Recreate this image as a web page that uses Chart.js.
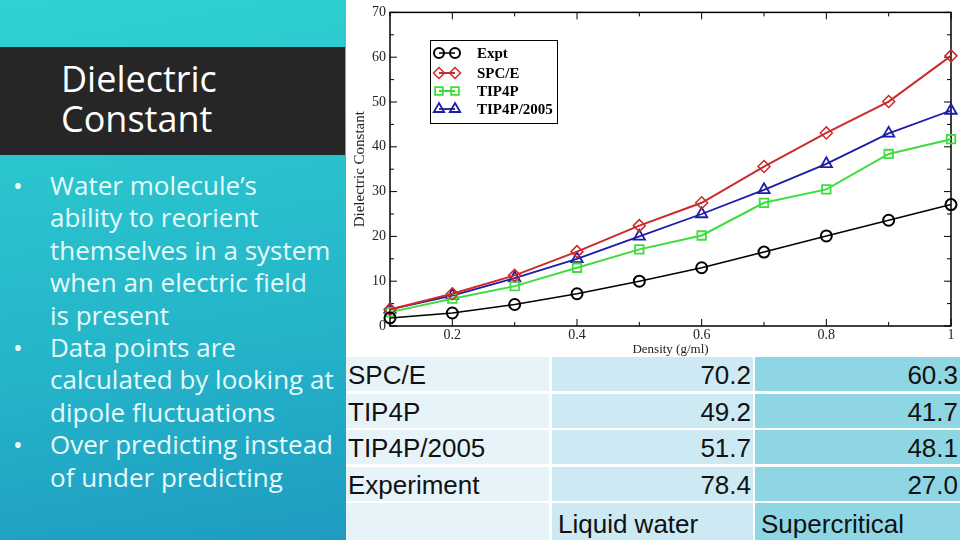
<!DOCTYPE html>
<html>
<head>
<meta charset="utf-8">
<script src="https://cdn.jsdelivr.net/npm/chart.js@4.4.0/dist/chart.umd.min.js"></script>
<style>
  html, body { margin: 0; padding: 0; }
  body { width: 960px; height: 540px; overflow: hidden; position: relative;
         background: linear-gradient(170deg, #30d3d1 0%, #24b3c9 55%, #1b8fbd 100%);
         font-family: "Open Sans", Lato, sans-serif; }
  #titleBar { position: absolute; left: 0; top: 47px; width: 345px; height: 108px; background: #262626; }
  #titleBar div { position: absolute; left: 61px; top: 12px; color: #fff; font-size: 36px; line-height: 40px; }
  #bullets { position: absolute; left: 0; top: 169px; width: 345px; color: #e6fafa; font-size: 26px; line-height: 32.4px; white-space: nowrap; }
  #bullets .b { position: relative; padding-left: 50px; }
  #bullets .b::before { content: "\2022"; position: absolute; left: 13px; }
  #chartBox { position: absolute; left: 346px; top: 0; width: 614px; height: 357px; background: #fff; }
  #tbl { position: absolute; left: 346px; top: 357px; width: 614px; height: 183px; background: #fff;
         font-family: "Liberation Sans", Arial, sans-serif; font-size: 26px; color: #111; }
  .cell { position: absolute; height: 34px; line-height: 36px; box-sizing: border-box; white-space: nowrap; }
</style>
</head>
<body>
<div id="titleBar"><div>Dielectric<br>Constant</div></div>
<div id="bullets">
  <div class="b">Water molecule’s<br>ability to reorient<br>themselves in a system<br>when an electric field<br>is present</div>
  <div class="b">Data points are<br>calculated by looking at<br>dipole fluctuations</div>
  <div class="b">Over predicting instead<br>of under predicting</div>
</div>
<div id="chartBox"><canvas id="chart" width="614" height="357"></canvas></div>
<div id="tbl"></div>
<script>
// chart data
const density = [0.1, 0.2, 0.3, 0.4, 0.5, 0.6, 0.7, 0.8, 0.9, 1.0];
const expt = [1.8, 2.9, 4.8, 7.2, 10.0, 13.0, 16.5, 20.1, 23.6, 27.1];
const spce = [3.7, 7.2, 11.3, 16.6, 22.4, 27.5, 35.6, 43.1, 50.1, 60.3];
const tip4p = [3.1, 6.1, 8.9, 13.0, 17.1, 20.2, 27.5, 30.5, 38.4, 41.7];
const tip4p2005 = [3.7, 6.8, 10.7, 15.0, 20.0, 25.0, 30.4, 36.2, 43.0, 48.1];
const seriesNames = ['Expt', 'SPC/E', 'TIP4P', 'TIP4P/2005'];
const xTicks = [0.2, 0.4, 0.6, 0.8, 1];
const xMinor = [0.1, 0.3, 0.5, 0.7, 0.9];
const yTicks = [0, 10, 20, 30, 40, 50, 60, 70];
const yMinor = [5, 15, 25, 35, 45, 55, 65];

// table data
const tableModels = ['SPC/E', 'TIP4P', 'TIP4P/2005', 'Experiment'];
const liquidVals = ['70.2', '49.2', '51.7', '78.4'];
const superVals = ['60.3', '41.7', '48.1', '27.0'];
const tableHeads = ['', 'Liquid water', 'Supercritical'];

const tbl = document.getElementById('tbl');
const colX = [0, 206, 409];
const colW = [203, 201, 205];
const colBg = ['#e6f4f9', '#cde9f3', '#8fd6e5'];
function addCell(row, col, text, align) {
    const d = document.createElement('div');
    d.className = 'cell';
    d.style.left = colX[col] + 'px';
    d.style.width = colW[col] + 'px';
    d.style.top = (row * 36.5) + 'px';
    d.style.height = (row == 4 ? 183 - 4 * 36.5 : 34) + 'px';
    d.style.background = colBg[col];
    d.style.textAlign = align;
    d.style.padding = align == 'right' ? '0 2px 0 0' : '0 0 0 6px';
    if (col == 0) d.style.paddingLeft = '2px';
    if (row == 4) d.style.lineHeight = '42px';
    d.textContent = text;
    tbl.appendChild(d);
}
tableModels.forEach((m, i) => {
    addCell(i, 0, m, 'left');
    addCell(i, 1, liquidVals[i], 'right');
    addCell(i, 2, superVals[i], 'right');
});
tableHeads.forEach((h, i) => addCell(4, i, h, 'left'));

function pts(arr) {
    return arr.map((v, i) => ({ x: density[i], y: v }));
}

// frame with inward ticks on all four sides, like xmgrace
const framePlugin = {
    id: 'frame',
    beforeDatasetsDraw(chart) {
        const { ctx, chartArea: a, scales } = chart;
        ctx.save();
        ctx.strokeStyle = '#000';
        ctx.lineWidth = 1.5;
        ctx.strokeRect(a.left, a.top, a.right - a.left, a.bottom - a.top);
        ctx.lineWidth = 1;
        ctx.beginPath();
        const xt = (v, len) => {
            const px = scales.x.getPixelForValue(v);
            ctx.moveTo(px, a.bottom); ctx.lineTo(px, a.bottom - len);
            ctx.moveTo(px, a.top); ctx.lineTo(px, a.top + len);
        };
        const yt = (v, len) => {
            const py = scales.y.getPixelForValue(v);
            ctx.moveTo(a.left, py); ctx.lineTo(a.left + len, py);
            ctx.moveTo(a.right, py); ctx.lineTo(a.right - len, py);
        };
        xTicks.forEach(v => xt(v, 7));
        xMinor.forEach(v => xt(v, 4));
        yTicks.forEach(v => yt(v, 7));
        yMinor.forEach(v => yt(v, 4));
        ctx.stroke();
        ctx.restore();
    }
};

// boxed legend inside the plot
const legendPlugin = {
    id: 'boxLegend',
    afterDatasetsDraw(chart) {
        const ctx = chart.ctx;
        ctx.save();
        ctx.fillStyle = '#fff';
        ctx.fillRect(84, 40, 127, 83);
        ctx.strokeStyle = '#000';
        ctx.lineWidth = 1;
        ctx.strokeRect(84.5, 40.5, 127, 83);
        const rows = [53, 73, 91, 109];
        chart.data.datasets.forEach((ds, i) => {
            const y = rows[i];
            ctx.strokeStyle = ds.borderColor;
            ctx.lineWidth = ds.borderWidth;
            ctx.beginPath();
            ctx.moveTo(93, y); ctx.lineTo(109, y);
            ctx.stroke();
            ctx.fillStyle = 'rgba(0,0,0,0)';
            ctx.lineWidth = ds.pointBorderWidth;
            [93, 109].forEach(x => {
                Chart.helpers.drawPoint(ctx, {
                    pointStyle: ds.pointStyle, radius: ds.pointRadius - 0.5,
                    rotation: 0, borderWidth: ds.pointBorderWidth
                }, x, y);
            });
            ctx.fillStyle = '#000';
            ctx.font = 'bold 15px "Liberation Serif", "DejaVu Serif", serif';
            ctx.textBaseline = 'middle';
            ctx.fillText(ds.label, 131, y + 1);
        });
        ctx.restore();
    }
};

const serif = '"Liberation Serif", "DejaVu Serif", serif';

new Chart(document.getElementById('chart'), {
    type: 'line',
    data: {
        datasets: [{
            label: seriesNames[0], data: pts(expt),
            borderColor: '#000', borderWidth: 1.5,
            pointStyle: 'circle', pointRadius: 5.5, pointBorderWidth: 2,
            pointBackgroundColor: 'rgba(0,0,0,0)', pointBorderColor: '#000'
        }, {
            label: seriesNames[1], data: pts(spce),
            borderColor: '#cc2a2a', borderWidth: 2,
            pointStyle: 'rectRot', pointRadius: 6, pointBorderWidth: 1.5,
            pointBackgroundColor: 'rgba(0,0,0,0)', pointBorderColor: '#cc2a2a'
        }, {
            label: seriesNames[2], data: pts(tip4p),
            borderColor: '#3ddd3d', borderWidth: 2,
            pointStyle: 'rect', pointRadius: 6, pointBorderWidth: 1.8,
            pointBackgroundColor: 'rgba(0,0,0,0)', pointBorderColor: '#3ddd3d'
        }, {
            label: seriesNames[3], data: pts(tip4p2005),
            borderColor: '#1c1ca8', borderWidth: 1.8,
            pointStyle: 'triangle', pointRadius: 6.5, pointBorderWidth: 1.8,
            pointBackgroundColor: 'rgba(0,0,0,0)', pointBorderColor: '#1c1ca8'
        }]
    },
    options: {
        responsive: false,
        animation: false,
        clip: false,
        layout: { padding: { top: 7, right: 9, left: 0, bottom: 0 } },
        plugins: { legend: { display: false }, tooltip: { enabled: false } },
        elements: { line: { tension: 0 } },
        scales: {
            x: {
                type: 'linear', min: 0.1, max: 1,
                afterBuildTicks: s => { s.ticks = xTicks.map(v => ({ value: v })); },
                afterFit: s => { s.height = 31; },
                grid: { display: false, drawTicks: false },
                border: { display: false },
                ticks: { padding: 1, color: '#222', font: { family: serif, size: 14 },
                         callback: v => String(v) },
                title: { display: true, text: 'Density (g/ml)', color: '#222',
                         padding: { top: 0, bottom: 0 }, font: { family: serif, size: 13 } }
            },
            y: {
                type: 'linear', min: 0, max: 70,
                afterBuildTicks: s => { s.ticks = yTicks.map(v => ({ value: v })); },
                afterFit: s => { s.width = 44; },
                grid: { display: false, drawTicks: false },
                border: { display: false },
                ticks: { padding: 4, color: '#222', font: { family: serif, size: 14 } },
                title: { display: true, text: 'Dielectric Constant', color: '#222',
                         padding: { top: 5, bottom: 0 }, font: { family: serif, size: 15 } }
            }
        }
    },
    plugins: [framePlugin, legendPlugin]
});
</script>
</body>
</html>
